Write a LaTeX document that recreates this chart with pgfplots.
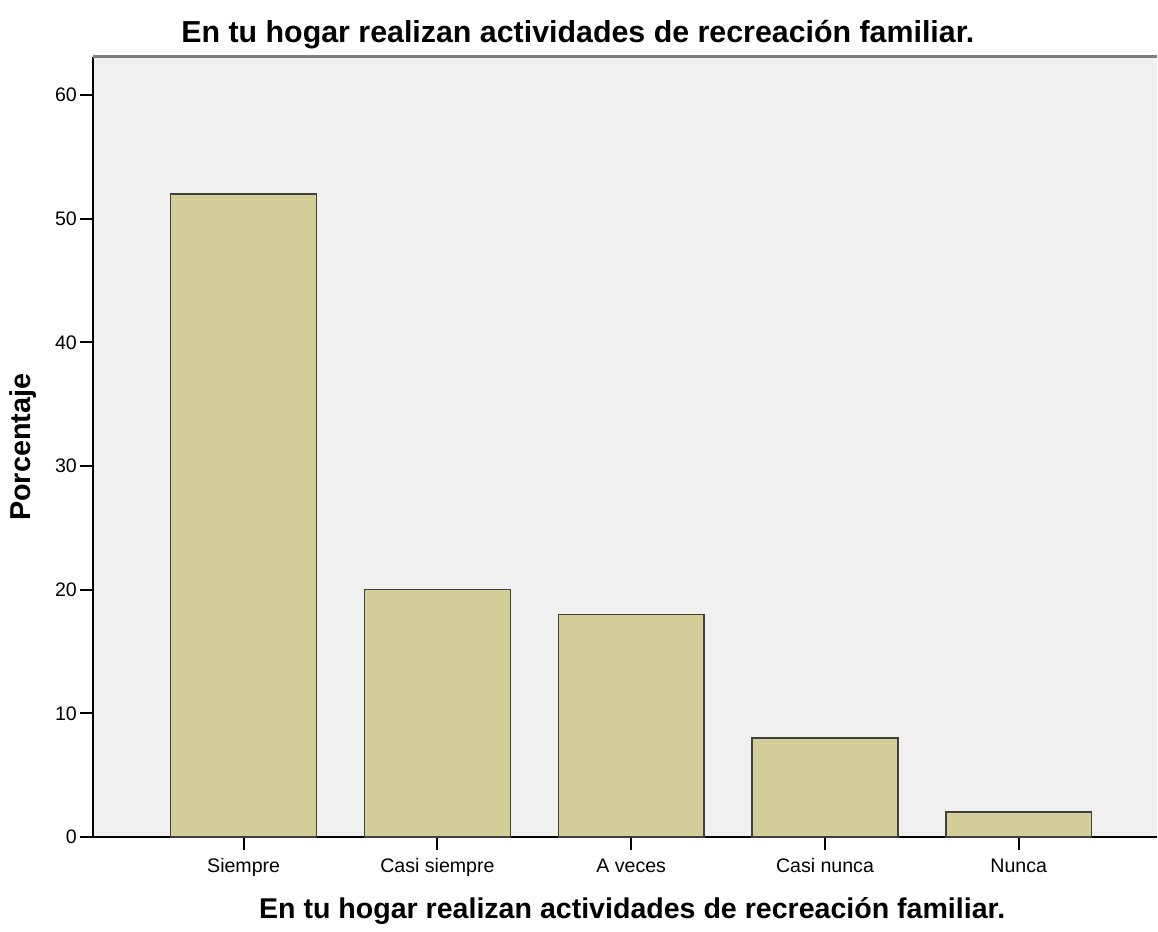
\documentclass[border=0pt]{standalone}
\usepackage{pgfplots}
\pgfplotsset{compat=1.18}
\usepackage{fontspec}
\setmainfont{Liberation Sans}
\definecolor{barfill}{HTML}{D3CE98}
\definecolor{bg}{HTML}{F0F0F0}
\begin{document}
\begin{tikzpicture}[x=0.5pt,y=0.5pt]
\begin{axis}[
  scale only axis,
  width=532.5pt, height=390.5pt,
  at={(46.5pt,43.5pt)}, anchor=south west,
  xmin=-0.778, xmax=4.711,
  ymin=0, ymax=63.1,
  axis x line*=bottom, axis y line*=left,
  axis line style={black, line width=1pt, -},
  axis background/.style={fill=bg},
  xtick=data,
  xticklabels={Siempre,Casi siempre,A veces,Casi nunca,Nunca},
  ytick={0,10,20,30,40,50,60},
  tick align=outside,
  major tick length=6.5pt,
  tick style={black, line width=1pt},
  ticklabel style={font=\fontsize{9.8}{11}\selectfont},
  /pgf/number format/assume math mode=true,
  yticklabel style={xshift=2pt},
  xticklabel style={yshift=-0.5pt, text height=0.72em, text depth=0.21em},
  clip=false,
]
\addplot[ybar, bar width=73pt, fill=barfill, draw=black!75, line width=0.75pt]
  coordinates {(0,52) (1,20) (2,18) (3,8) (4,2)};
\draw[black!50, line width=1.5pt] (rel axis cs:0,1) -- (rel axis cs:1,1);
\node[font=\bfseries\fontsize{15.2}{17}\selectfont, anchor=base] at (rel axis cs:0.456,1.0179) {En tu hogar realizan actividades de recreación familiar.};
\node[font=\bfseries\fontsize{14.3}{17}\selectfont, anchor=base] at (rel axis cs:0.507,-0.105) {En tu hogar realizan actividades de recreación familiar.};
\node[font=\bfseries\fontsize{14.4}{17}\selectfont, rotate=90] at (rel axis cs:-0.0657,0.4994) {Porcentaje};
\end{axis}
\useasboundingbox (0,0) rectangle (1158,925);
\end{tikzpicture}
\end{document}
